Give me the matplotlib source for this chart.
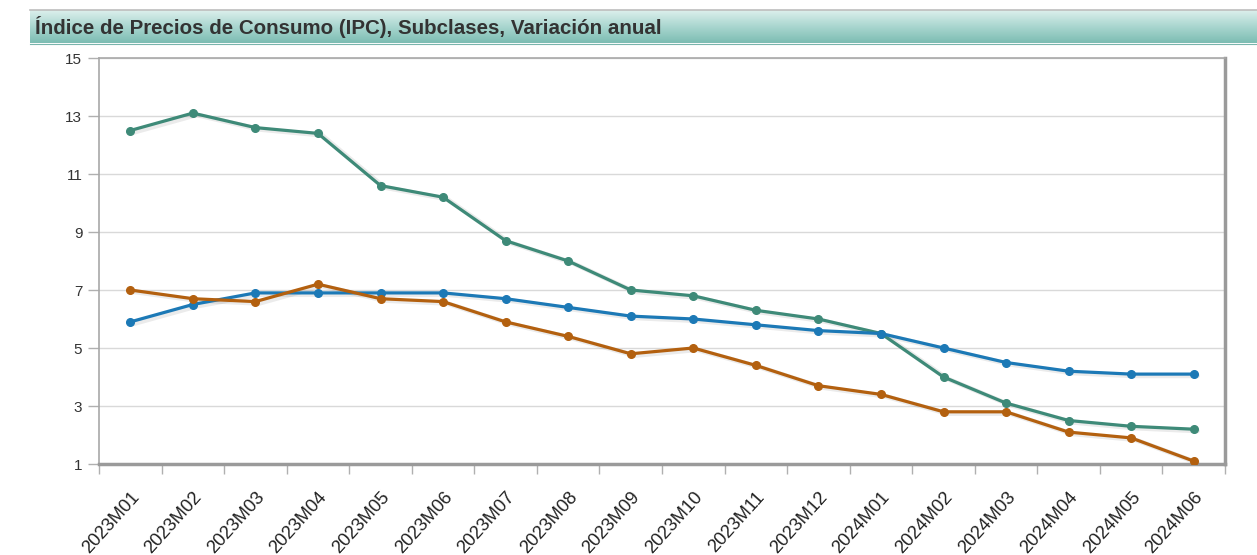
import matplotlib
matplotlib.use("Agg")
import matplotlib.pyplot as plt
import numpy as np
from matplotlib.colors import LinearSegmentedColormap

plt.rcParams['font.family'] = ['Liberation Sans', 'DejaVu Sans']

categories = ["2023M01", "2023M02", "2023M03", "2023M04", "2023M05", "2023M06",
              "2023M07", "2023M08", "2023M09", "2023M10", "2023M11", "2023M12",
              "2024M01", "2024M02", "2024M03", "2024M04", "2024M05", "2024M06"]
serie_verde = [12.5, 13.1, 12.6, 12.4, 10.6, 10.2, 8.7, 8.0, 7.0, 6.8, 6.3, 6.0,
               5.5, 4.0, 3.1, 2.5, 2.3, 2.2]
serie_azul = [5.9, 6.5, 6.9, 6.9, 6.9, 6.9, 6.7, 6.4, 6.1, 6.0, 5.8, 5.6,
              5.5, 5.0, 4.5, 4.2, 4.1, 4.1]
serie_naranja = [7.0, 6.7, 6.6, 7.2, 6.7, 6.6, 5.9, 5.4, 4.8, 5.0, 4.4, 3.7,
                 3.4, 2.8, 2.8, 2.1, 1.9, 1.1]
y_ticks = [1, 3, 5, 7, 9, 11, 13, 15]
title = "Índice de Precios de Consumo (IPC), Subclases, Variación anual"

W, H = 1257, 555
fig = plt.figure(figsize=(W / 100, H / 100), dpi=100)
fig.patch.set_facecolor("white")

# title bar with gradient
bar_top, bar_bot, bar_left = 10, 43, 30
bax = fig.add_axes([bar_left / W, 1 - bar_bot / H, 1 - bar_left / W, (bar_bot - bar_top) / H])
cmap = LinearSegmentedColormap.from_list("bar", ["#dcefec", "#a9d6cf", "#7dbdb3"])
grad = np.linspace(0, 1, 64).reshape(-1, 1)
bax.imshow(grad, aspect="auto", cmap=cmap, extent=[0, 1, 0, 1])
bax.set_xlim(0, 1); bax.set_ylim(0, 1)
bax.axis("off")
fig.add_artist(plt.Line2D([bar_left / W, 1], [1 - 9.5 / H] * 2, color="#bdbdbd", lw=1.2))
fig.add_artist(plt.Line2D([bar_left / W, 1], [1 - 43.5 / H] * 2, color="#79b5ac", lw=0.8))
fig.text(35 / W, 1 - 27 / H, title, fontsize=14.8, fontweight="bold", color="#333333",
         ha="left", va="center")

left, right, top, bottom = 99, 1225, 58, 464
ax = fig.add_axes([left / W, 1 - bottom / H, (right - left) / W, (bottom - top) / H])
x = np.arange(len(categories))

series = [(serie_verde, "#3e8a78"), (serie_azul, "#1c79b6"), (serie_naranja, "#b3600f")]
for vals, col in series:
    ax.plot(x + 0.06, np.array(vals) - 0.06, color="#000000", alpha=0.08, lw=3.5,
            solid_capstyle="round", zorder=2)
    ax.plot(x, vals, color=col, lw=2.3, marker="o", markersize=5.5, zorder=3,
            solid_joinstyle="round")

ax.set_xlim(-0.5, len(categories) - 0.5)
ax.set_ylim(1, 15)
ax.set_yticks(y_ticks)
ax.set_yticklabels([str(v) for v in y_ticks], fontsize=11, color="#333333")
ax.grid(axis="y", color="#d9d9d9", lw=1)
ax.set_axisbelow(True)

ax.set_xticks(x)
ax.set_xticklabels(categories, rotation=48, ha="right", rotation_mode="anchor",
                   fontsize=13.2, color="#222222")
ax.tick_params(axis="x", which="major", length=0, pad=18)
ax.set_xticks(np.arange(-0.5, len(categories), 1), minor=True)
ax.tick_params(axis="x", which="minor", length=7, color="#b0b0b0", width=1)
ax.tick_params(axis="y", length=8, color="#b0b0b0", width=1, pad=4)

for s in ["left", "top"]:
    ax.spines[s].set_color("#a8a8a8")
    ax.spines[s].set_linewidth(1.2)
for s in ["right", "bottom"]:
    ax.spines[s].set_color("#9a9a9a")
    ax.spines[s].set_linewidth(2.5)

fig.savefig("out.png", dpi=100, facecolor="white")
